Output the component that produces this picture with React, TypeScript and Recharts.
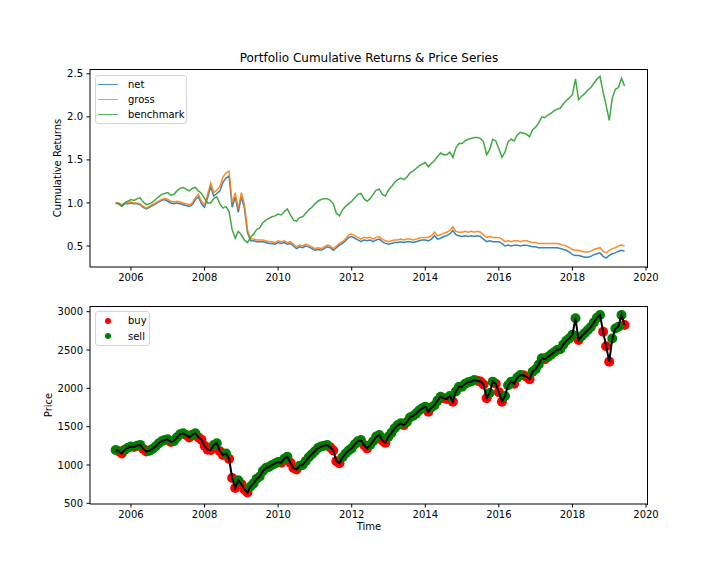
import React from "react";
import { LineChart, Line, ComposedChart, Scatter, XAxis, YAxis, Legend } from "recharts";

const FONT = "'DejaVu Sans', sans-serif";

// monthly samples, first one is Aug 2005
const START_YEAR = 2005;
const START_MONTH = 8;

const NET = [
  1.0, 0.99, 0.97, 0.99, 0.99,
  1.0, 0.99, 0.99, 0.98, 0.95, 0.93, 0.95, 0.97, 0.99, 1.01, 1.03, 1.04,
  1.02, 1.0, 0.99, 1.0, 0.99, 0.98, 0.97, 0.96, 0.98, 1.04, 1.07, 0.99,
  0.95, 1.06, 1.19, 1.08, 1.11, 1.14, 1.24, 1.29, 1.31, 0.95, 1.07, 0.89,
  1.07, 0.94, 0.66, 0.56, 0.56, 0.55, 0.55, 0.55, 0.54, 0.53, 0.53, 0.52,
  0.54, 0.53, 0.54, 0.52, 0.53, 0.5, 0.47, 0.49, 0.48, 0.5, 0.49, 0.47,
  0.45, 0.46, 0.45, 0.47, 0.49, 0.48, 0.45, 0.48, 0.51, 0.53, 0.56, 0.6,
  0.61, 0.59, 0.57, 0.55, 0.57, 0.56, 0.57, 0.55, 0.57, 0.58, 0.55, 0.53,
  0.52, 0.53, 0.54, 0.54, 0.55, 0.54, 0.55, 0.55, 0.54, 0.55, 0.56, 0.57,
  0.57, 0.56, 0.58, 0.62, 0.58, 0.59, 0.61, 0.62, 0.64, 0.68, 0.63, 0.62,
  0.61, 0.62, 0.61, 0.62, 0.61, 0.62, 0.61, 0.58, 0.55, 0.56, 0.55, 0.55,
  0.55, 0.53, 0.5, 0.51, 0.5, 0.51, 0.51, 0.5, 0.51, 0.51, 0.5, 0.49,
  0.49, 0.48, 0.48, 0.48, 0.48, 0.48, 0.48, 0.48, 0.47, 0.46, 0.45, 0.43,
  0.4, 0.39, 0.39, 0.38, 0.37, 0.37, 0.38, 0.4, 0.41, 0.42, 0.38, 0.36,
  0.39, 0.41, 0.42, 0.44, 0.45, 0.44,
];

const GROSS = [
  1.0, 1.0, 0.98, 1.0, 1.0,
  1.01, 1.0, 1.0, 0.99, 0.96, 0.94, 0.96, 0.98, 1.0, 1.02, 1.04, 1.05,
  1.04, 1.02, 1.01, 1.02, 1.01, 1.0, 0.99, 0.98, 1.0, 1.06, 1.1, 1.02,
  0.98, 1.1, 1.23, 1.12, 1.15, 1.19, 1.3, 1.35, 1.37, 1.0, 1.12, 0.93,
  1.12, 0.98, 0.69, 0.58, 0.58, 0.57, 0.57, 0.57, 0.56, 0.55, 0.55, 0.54,
  0.56, 0.55, 0.56, 0.54, 0.55, 0.52, 0.49, 0.51, 0.5, 0.52, 0.51, 0.49,
  0.47, 0.48, 0.47, 0.49, 0.51, 0.5, 0.47, 0.5, 0.53, 0.55, 0.58, 0.63,
  0.64, 0.62, 0.6, 0.58, 0.6, 0.59, 0.6, 0.58, 0.6, 0.61, 0.58, 0.56,
  0.55, 0.56, 0.57, 0.57, 0.58, 0.57, 0.58, 0.58, 0.57, 0.58, 0.59, 0.6,
  0.6, 0.6, 0.62, 0.66, 0.62, 0.63, 0.65, 0.66, 0.68, 0.72, 0.67, 0.66,
  0.66, 0.67, 0.66, 0.67, 0.66, 0.67, 0.66, 0.63, 0.6, 0.61, 0.6, 0.6,
  0.6, 0.58, 0.55, 0.56, 0.55, 0.56, 0.56, 0.55, 0.56, 0.56, 0.55, 0.54,
  0.54, 0.53, 0.53, 0.53, 0.53, 0.53, 0.53, 0.53, 0.52, 0.51, 0.5, 0.48,
  0.46, 0.45, 0.45, 0.44, 0.43, 0.43, 0.44, 0.46, 0.47, 0.48, 0.44, 0.42,
  0.45, 0.47, 0.48, 0.5, 0.51, 0.5,
];

const BENCHMARK = [
  1.0, 0.99, 0.96, 1.0, 1.02,
  1.04, 1.03, 1.05, 1.06, 1.01, 0.98, 0.99, 1.01, 1.04, 1.07, 1.1, 1.11,
  1.12, 1.09, 1.1, 1.14, 1.17, 1.18, 1.16, 1.14, 1.17, 1.18, 1.14, 1.11,
  1.05, 1.0, 1.0, 1.05, 1.07, 0.99, 0.94, 0.96, 0.9, 0.69, 0.59, 0.67,
  0.63, 0.57, 0.54, 0.6, 0.64, 0.69, 0.71, 0.77, 0.8, 0.82, 0.84, 0.85,
  0.87, 0.86, 0.9, 0.93, 0.86, 0.8, 0.79, 0.83, 0.84, 0.88, 0.92, 0.95,
  0.99, 1.02, 1.04, 1.05, 1.05, 1.03, 0.99, 0.88, 0.85, 0.92, 0.96, 0.99,
  1.02, 1.06, 1.1, 1.11, 1.05, 1.02, 1.05, 1.1, 1.15, 1.16, 1.1, 1.08,
  1.15, 1.19, 1.24, 1.27, 1.29, 1.27, 1.3, 1.35, 1.37, 1.4, 1.43, 1.45,
  1.47, 1.42, 1.46, 1.49, 1.54, 1.58, 1.56, 1.56, 1.59, 1.53, 1.64, 1.69,
  1.69, 1.72, 1.74, 1.75, 1.76, 1.76, 1.75, 1.71, 1.56, 1.62, 1.74, 1.72,
  1.63, 1.53, 1.59, 1.71, 1.74, 1.72, 1.79, 1.82, 1.81, 1.8, 1.77, 1.85,
  1.88, 1.93, 2.0, 1.99, 2.02, 2.04, 2.07, 2.09, 2.1, 2.15, 2.19, 2.22,
  2.26, 2.44, 2.2, 2.24, 2.27, 2.31, 2.34, 2.39, 2.44, 2.47, 2.29, 2.13,
  1.96, 2.22, 2.32, 2.34, 2.45, 2.36,
];

const PRICE = [
  1196, 1180, 1150, 1200, 1225,
  1240, 1235, 1250, 1262, 1210, 1175, 1185, 1210, 1240, 1280, 1310, 1326,
  1335, 1300, 1310, 1360, 1400, 1413, 1390, 1360, 1395, 1415, 1360, 1330,
  1250, 1200, 1196, 1260, 1283, 1180, 1130, 1150, 1080, 830, 700, 800,
  750, 680, 640, 720, 760, 820, 850, 920, 960, 975, 1000, 1020,
  1040, 1030, 1080, 1109, 1030, 960, 940, 990, 1000, 1050, 1100, 1140,
  1180, 1220, 1240, 1250, 1261, 1230, 1190, 1050, 1022, 1100, 1150, 1190,
  1217, 1270, 1310, 1326, 1260, 1217, 1260, 1310, 1370, 1391, 1320, 1290,
  1370, 1420, 1480, 1520, 1543, 1520, 1560, 1620, 1640, 1670, 1710, 1740,
  1761, 1696, 1750, 1780, 1840, 1891, 1870, 1860, 1900, 1826, 1960, 2020,
  2020, 2060, 2080, 2090, 2109, 2100, 2090, 2050, 1870, 1940, 2087, 2060,
  1950, 1826, 1900, 2040, 2087, 2060, 2140, 2174, 2170, 2150, 2120, 2217,
  2250, 2310, 2391, 2380, 2410, 2440, 2470, 2500, 2510, 2570, 2620, 2652,
  2700, 2914, 2630, 2680, 2720, 2761, 2800, 2860, 2920, 2957, 2739, 2550,
  2348, 2650, 2780, 2804, 2957, 2826,
];

// b = buy, s = sell, one letter per month
const SIGNALS = [
  "sbbss",
  "sbssbbssssss",
  "sbssssbbssbb",
  "bbbssbbsbbbs",
  "bbbsssssssss",
  "sbssbbbsssss",
  "sssssbbbbsss",
  "ssssbbssssbb",
  "sssssbssssss",
  "sbssssbbsbss",
  "sssssbbbbssb",
  "bbsssbssbbbs",
  "sssbssssssss",
  "ssbsssssssbb",
  "bssssb",
].join("");

const YEAR_TICKS = [2006, 2008, 2010, 2012, 2014, 2016, 2018, 2020];
const RETURN_TICKS = [0.5, 1.0, 1.5, 2.0, 2.5];
const PRICE_TICKS = [500, 1000, 1500, 2000, 2500, 3000];

const X_DOMAIN = [2004.886, 2020.054];
const RETURN_DOMAIN = [0.256, 2.556];
const PRICE_DOMAIN = [491, 3074];

const rows = PRICE.map((price, i) => ({
  t: START_YEAR + (START_MONTH - 1 + i) / 12,
  net: NET[i],
  gross: GROSS[i],
  benchmark: BENCHMARK[i],
  price,
}));
const buyRows = rows.filter((_, i) => SIGNALS[i] === "b");
const sellRows = rows.filter((_, i) => SIGNALS[i] === "s");

const tickStyle = { fontSize: 10, fill: "#000", fontFamily: FONT };

function LegendBox(props: any) {
  const { payload = [], marker, width, rowHeight, order } = props;
  // keep the plotting order, recharts sorts by name otherwise
  const items = order.map((name: string) => payload.find((e: any) => e.value === name)).filter(Boolean);
  return (
    <div
      style={{
        width,
        boxSizing: "border-box",
        border: "1px solid #d4d4d4",
        borderRadius: 3,
        background: "rgba(255,255,255,0.8)",
        padding: "1px 2px 1px 2px",
        fontFamily: FONT,
        fontSize: 10,
        color: "#000",
      }}
    >
      {items.map((e: any) => (
        <div key={e.value} style={{ display: "flex", alignItems: "center", height: rowHeight, whiteSpace: "nowrap" }}>
          <span style={{ width: 20, marginRight: 10, display: "flex", justifyContent: "center" }}>
            {marker === "circle" ? (
              <span style={{ width: 6, height: 6, borderRadius: 3, background: e.color }} />
            ) : (
              <span style={{ width: 20, borderTop: `1.5px solid ${e.color}`, opacity: 0.8 }} />
            )}
          </span>
          {e.value}
        </div>
      ))}
    </div>
  );
}

// top and right spines, recharts only draws the axis sides
const frameStyle = (top: number): React.CSSProperties => ({
  position: "absolute",
  left: 90,
  top,
  width: 557,
  height: 198,
  borderTop: "1px solid #000",
  borderRight: "1px solid #000",
  pointerEvents: "none",
});

const dot = (fill: string) => (p: any) => <circle cx={p.cx} cy={p.cy} r={5} fill={fill} />;

export default function App() {
  return (
    <div style={{ position: "absolute", left: 0, top: 0, width: 720, height: 576, background: "#fff", fontFamily: FONT }}>
      <div style={{ position: "absolute", top: 51, left: 90, width: 558, textAlign: "center", fontSize: 12, color: "#000" }}>
        Portfolio Cumulative Returns &amp; Price Series
      </div>

      <div style={{ position: "absolute", top: 0, left: 0 }}>
        <LineChart width={720} height={288} data={rows} margin={{ top: 69, right: 72, bottom: 0, left: 0 }}>
          <XAxis
            dataKey="t"
            type="number"
            domain={X_DOMAIN}
            ticks={YEAR_TICKS}
            interval={0}
            allowDataOverflow
            height={21}
            tickSize={3.5}
            tickMargin={3}
            stroke="#000"
            tick={tickStyle}
          />
          <YAxis
            type="number"
            domain={RETURN_DOMAIN}
            ticks={RETURN_TICKS}
            interval={0}
            allowDataOverflow
            width={90}
            tickSize={3.5}
            tickMargin={3.5}
            stroke="#000"
            tick={tickStyle}
            tickFormatter={(v: number) => v.toFixed(1)}
            label={{ value: "Cumulative Returns", angle: -90, position: "center", dx: 12, style: { fontSize: 10, fill: "#000", fontFamily: FONT } }}
          />
          <Legend
            layout="vertical"
            align="center"
            verticalAlign="middle"
            wrapperStyle={{ left: 95, top: 75, width: 92 }}
            content={(p: any) => <LegendBox {...p} width={92} rowHeight={15} order={["net", "gross", "benchmark"]} />}
          />
          <Line dataKey="net" name="net" stroke="#1f77b4" strokeWidth={1.5} strokeOpacity={0.9} dot={false} isAnimationActive={false} />
          <Line dataKey="gross" name="gross" stroke="#ff7f0e" strokeWidth={1.5} strokeOpacity={0.9} dot={false} isAnimationActive={false} />
          <Line dataKey="benchmark" name="benchmark" stroke="#2ca02c" strokeWidth={1.5} strokeOpacity={0.9} dot={false} isAnimationActive={false} />
        </LineChart>
        <div style={frameStyle(69)} />
      </div>

      <div style={{ position: "absolute", top: 288, left: 0 }}>
        <ComposedChart width={720} height={288} data={rows} margin={{ top: 18, right: 72, bottom: 32, left: 0 }}>
          <XAxis
            dataKey="t"
            type="number"
            domain={X_DOMAIN}
            ticks={YEAR_TICKS}
            interval={0}
            allowDataOverflow
            height={40}
            tickSize={3.5}
            tickMargin={3}
            stroke="#000"
            tick={tickStyle}
            label={{ value: "Time", position: "insideTop", offset: 19, style: { fontSize: 10, fill: "#000", fontFamily: FONT } }}
          />
          <YAxis
            dataKey="price"
            type="number"
            domain={PRICE_DOMAIN}
            ticks={PRICE_TICKS}
            interval={0}
            allowDataOverflow
            width={90}
            tickSize={3.5}
            tickMargin={3.5}
            stroke="#000"
            tick={tickStyle}
            label={{ value: "Price", angle: -90, position: "center", dx: 3, style: { fontSize: 10, fill: "#000", fontFamily: FONT } }}
          />
          <Legend
            layout="vertical"
            align="center"
            verticalAlign="middle"
            wrapperStyle={{ left: 95, top: 23, width: 55 }}
            content={(p: any) => <LegendBox {...p} width={55} rowHeight={15.6} marker="circle" order={["buy", "sell"]} />}
          />
          <Scatter data={buyRows} dataKey="price" name="buy" fill="#ff0000" shape={dot("#ff0000")} isAnimationActive={false} />
          <Scatter data={sellRows} dataKey="price" name="sell" fill="#008000" shape={dot("#008000")} isAnimationActive={false} />
        </ComposedChart>
        {/* price line on its own layer so it sits above the markers */}
        <div style={{ position: "absolute", top: 0, left: 0, pointerEvents: "none" }}>
          <LineChart width={720} height={288} data={rows} margin={{ top: 18, right: 72, bottom: 72, left: 90 }}>
            <XAxis dataKey="t" type="number" domain={X_DOMAIN} allowDataOverflow hide />
            <YAxis type="number" domain={PRICE_DOMAIN} allowDataOverflow hide />
            <Line dataKey="price" name="price" stroke="#000" strokeWidth={2} dot={false} isAnimationActive={false} />
          </LineChart>
        </div>
        <div style={frameStyle(18)} />
      </div>
    </div>
  );
}
